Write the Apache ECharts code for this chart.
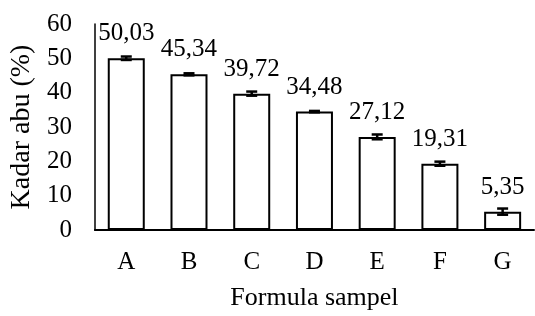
<!DOCTYPE html>
<html>
<head>
    <meta charset="utf-8">
    <script src="https://cdn.jsdelivr.net/npm/echarts@6/dist/echarts.min.js"></script>
</head>
<body style="margin:0">
    <div id="main" style="width: 535px;height:316px;"></div>
    <script type="text/javascript">
        var categories = ['A', 'B', 'C', 'D', 'E', 'F', 'G'];
        var kadarAbu = [50.03, 45.34, 39.72, 34.48, 27.12, 19.31, 5.35];
        var stdDev = [0.5, 0.3, 0.6, 0.2, 0.7, 0.6, 0.9];
        var yTicks = [0, 10, 20, 30, 40, 50, 60];

        var font = 'Liberation Serif';
        var myChart = echarts.init(document.getElementById('main'));

        var errData = kadarAbu.map(function (v, i) {
            return [i, v - stdDev[i], v + stdDev[i]];
        });

        var option = {
            animation: false,
            grid: { left: 91, right: 1, top: 24, bottom: 86 },
            xAxis: {
                type: 'category',
                data: categories,
                axisLine: { lineStyle: { color: '#000', width: 2 } },
                axisTick: { show: false },
                axisLabel: { color: '#000', fontFamily: font, fontSize: 25, margin: 20 },
                name: 'Formula sampel',
                nameLocation: 'middle',
                nameGap: 55,
                nameTextStyle: { color: '#000', fontFamily: font, fontSize: 26 }
            },
            yAxis: {
                type: 'value',
                min: yTicks[0],
                max: yTicks[yTicks.length - 1],
                interval: 10,
                splitLine: { show: false },
                axisLine: { show: true, lineStyle: { color: '#000', width: 1.5 } },
                axisTick: { show: false },
                axisLabel: { color: '#000', fontFamily: font, fontSize: 25, margin: 23 },
                name: 'Kadar abu (%)',
                nameLocation: 'middle',
                nameGap: 55,
                nameTextStyle: { color: '#000', fontFamily: font, fontSize: 28 }
            },
            series: [{
                type: 'bar',
                data: kadarAbu,
                barWidth: 37,
                itemStyle: { color: '#fff', borderColor: '#000', borderWidth: 2 },
                label: {
                    show: true,
                    position: 'top',
                    distance: 12,
                    color: '#000',
                    fontFamily: font,
                    fontSize: 25,
                    formatter: function (p) {
                        return p.value.toFixed(2).replace('.', ',');
                    }
                }
            }, {
                type: 'custom',
                data: errData,
                z: 10,
                renderItem: function (params, api) {
                    var x = api.value(0);
                    var lo = api.coord([x, api.value(1)]);
                    var hi = api.coord([x, api.value(2)]);
                    var hw = 5.5;
                    var style = { stroke: '#000', lineWidth: 2.5 };
                    return {
                        type: 'group',
                        children: [
                            { type: 'line', shape: { x1: lo[0], y1: lo[1], x2: hi[0], y2: hi[1] }, style: style },
                            { type: 'line', shape: { x1: lo[0] - hw, y1: lo[1], x2: lo[0] + hw, y2: lo[1] }, style: style },
                            { type: 'line', shape: { x1: hi[0] - hw, y1: hi[1], x2: hi[0] + hw, y2: hi[1] }, style: style }
                        ]
                    };
                }
            }]
        };
        myChart.setOption(option);
    </script>
</body>
</html>
